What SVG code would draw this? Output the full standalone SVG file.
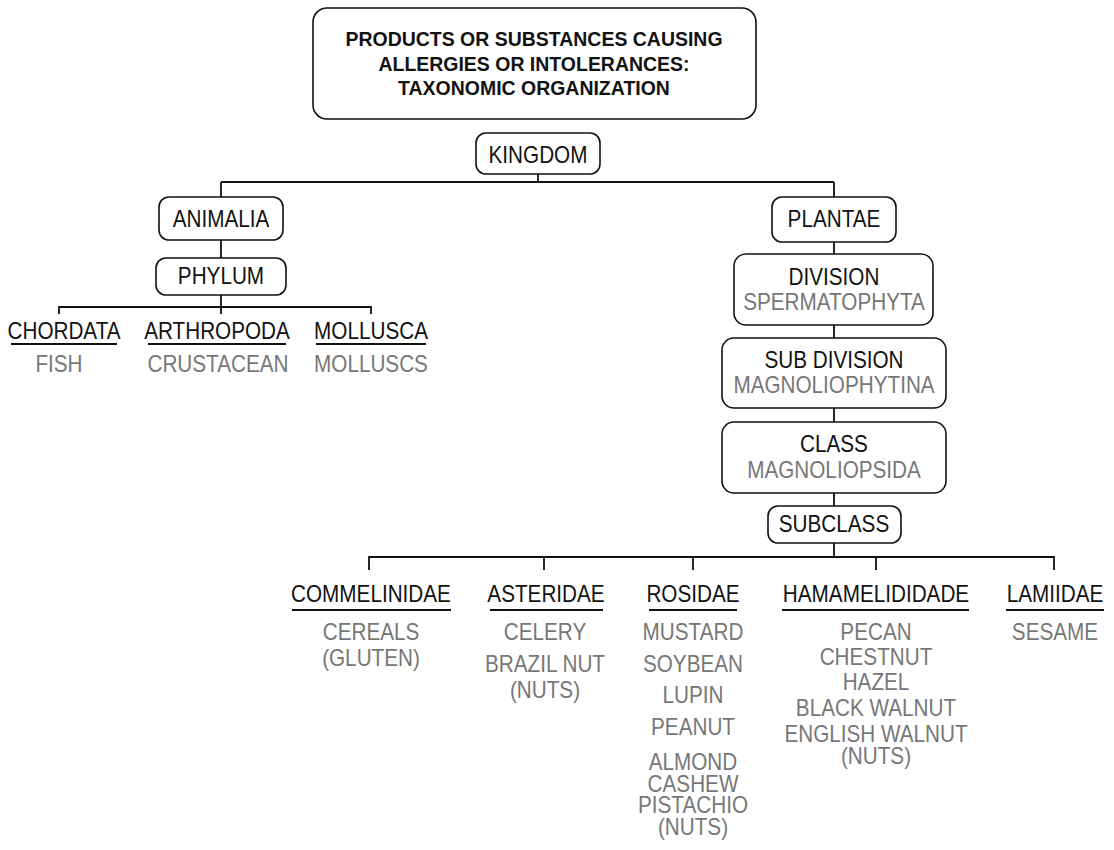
<svg xmlns="http://www.w3.org/2000/svg" width="1114" height="850" viewBox="0 0 1114 850">
<style>
text{font-family:"Liberation Sans",Arial,sans-serif;font-size:23px;text-anchor:middle;fill:#111;transform-box:fill-box;transform-origin:center;transform:scaleX(0.9)}
.t{font-weight:bold;font-size:20.5px;transform:scaleX(0.95)}
.g{fill:#777}
.box{fill:#fff;stroke:#111;stroke-width:1.6}
.ln{stroke:#111;stroke-width:1.8;fill:none}
.ul{stroke:#111;stroke-width:2.2}
</style>
<rect width="1114" height="850" fill="#fff"/>
<g id="connectors" class="ln">
<path d="M538 174V182M221 182H834M221 182V197M834 182V197"/>
<path d="M221 240V258M221 295V314M59 314V307H371V314"/>
<path d="M834 242V254M834 325V338M834 408V422M834 493V506M834 543V557"/>
<path d="M369 570V557H1054V570M544 557V570M693 557V570M876 557V570"/>
</g>
<g id="title"><rect class="box" x="313" y="8" width="443" height="111" rx="14"/>
<text class="t" x="534" y="46">PRODUCTS OR SUBSTANCES CAUSING</text>
<text class="t" x="534" y="71">ALLERGIES OR INTOLERANCES:</text>
<text class="t" x="534" y="95">TAXONOMIC ORGANIZATION</text></g>
<g id="kingdom"><rect class="box" x="476" y="133" width="124" height="41" rx="10"/><text x="538" y="163">KINGDOM</text></g>
<g id="animalia"><rect class="box" x="159" y="197" width="124" height="43" rx="10"/><text x="221" y="227">ANIMALIA</text></g>
<g id="phylum"><rect class="box" x="156" y="258" width="130" height="37" rx="10"/><text x="221" y="284">PHYLUM</text></g>
<g id="chordata"><text x="64" y="339">CHORDATA</text><line class="ul" x1="11" y1="344" x2="117" y2="344"/><text class="g" x="59" y="372">FISH</text></g>
<g id="arthropoda"><text x="217" y="339">ARTHROPODA</text><line class="ul" x1="148" y1="344" x2="286" y2="344"/><text class="g" x="218" y="372">CRUSTACEAN</text></g>
<g id="mollusca"><text x="371" y="339">MOLLUSCA</text><line class="ul" x1="316" y1="344" x2="426" y2="344"/><text class="g" x="371" y="372">MOLLUSCS</text></g>
<g id="plantae"><rect class="box" x="772" y="197" width="124" height="45" rx="10"/><text x="834" y="227">PLANTAE</text></g>
<g id="division"><rect class="box" x="734" y="254" width="199" height="71" rx="12"/><text x="834" y="285">DIVISION</text><text class="g" x="834" y="310">SPERMATOPHYTA</text></g>
<g id="subdivision"><rect class="box" x="722" y="338" width="224" height="70" rx="12"/><text x="834" y="368">SUB DIVISION</text><text class="g" x="834" y="393">MAGNOLIOPHYTINA</text></g>
<g id="class"><rect class="box" x="722" y="422" width="224" height="71" rx="12"/><text x="834" y="452">CLASS</text><text class="g" x="834" y="478">MAGNOLIOPSIDA</text></g>
<g id="subclass"><rect class="box" x="768" y="506" width="133" height="37" rx="10"/><text x="834" y="532">SUBCLASS</text></g>
<g id="commelinidae"><text x="371" y="602">COMMELINIDAE</text><line class="ul" x1="292" y1="610" x2="451" y2="610"/>
<text class="g" x="371" y="640">CEREALS</text><text class="g" x="371" y="666">(GLUTEN)</text></g>
<g id="asteridae"><text x="546" y="602">ASTERIDAE</text><line class="ul" x1="490" y1="610" x2="603" y2="610"/>
<text class="g" x="545" y="640">CELERY</text><text class="g" x="545" y="672">BRAZIL NUT</text><text class="g" x="545" y="698">(NUTS)</text></g>
<g id="rosidae"><text x="693" y="602">ROSIDAE</text><line class="ul" x1="649" y1="610" x2="737" y2="610"/>
<text class="g" x="693" y="640">MUSTARD</text><text class="g" x="693" y="672">SOYBEAN</text><text class="g" x="693" y="703">LUPIN</text><text class="g" x="693" y="735">PEANUT</text>
<text class="g" x="693" y="770">ALMOND</text><text class="g" x="693" y="792">CASHEW</text><text class="g" x="693" y="813">PISTACHIO</text><text class="g" x="693" y="835">(NUTS)</text></g>
<g id="hamamelididade"><text x="876" y="602">HAMAMELIDIDADE</text><line class="ul" x1="782" y1="610" x2="969" y2="610"/>
<text class="g" x="876" y="640">PECAN</text><text class="g" x="876" y="665">CHESTNUT</text><text class="g" x="876" y="690">HAZEL</text><text class="g" x="876" y="716">BLACK WALNUT</text><text class="g" x="876" y="742">ENGLISH WALNUT</text><text class="g" x="876" y="764">(NUTS)</text></g>
<g id="lamiidae"><text x="1055" y="602">LAMIIDAE</text><line class="ul" x1="1006" y1="610" x2="1104" y2="610"/><text class="g" x="1055" y="640">SESAME</text></g>
</svg>
